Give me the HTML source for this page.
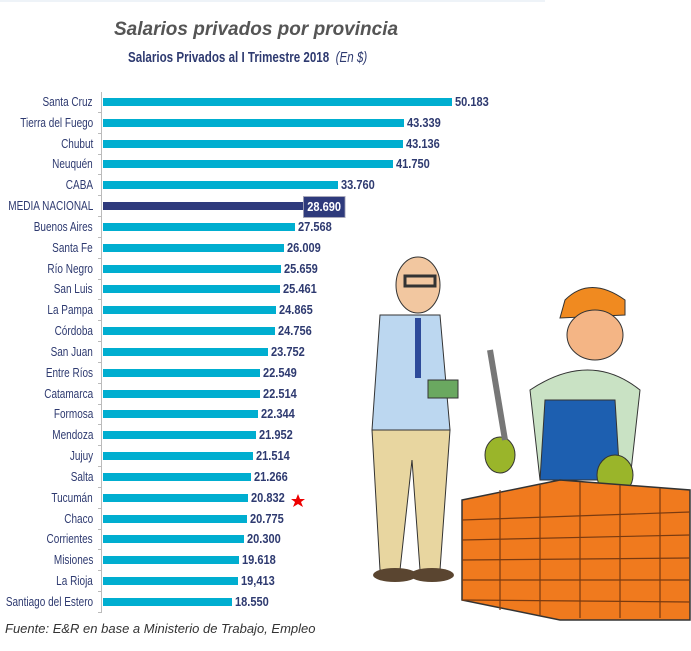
<!DOCTYPE html>
<html><head><meta charset="utf-8"><style>
body{margin:0;background:#fff;width:691px;height:651px;overflow:hidden;position:relative;font-family:"Liberation Sans",sans-serif}
.t1{position:absolute;left:114px;top:19px;font:italic bold 19px "Liberation Sans",sans-serif;color:#555}
.t2{position:absolute;left:128px;top:50px;font-size:14.5px;font-weight:bold;color:#2e3a70;transform:scaleX(0.8);transform-origin:left;white-space:nowrap}
.t2 i{font-weight:normal}
.lab{position:absolute;right:598px;font-size:12.5px;color:#2e3a70;white-space:nowrap;line-height:14px;transform:scaleX(0.8);transform-origin:right}
.bar{position:absolute;left:103px;height:8px;background:#00aed0}
.val{position:absolute;font-size:13px;font-weight:bold;color:#2e3a70;line-height:14px;transform:scaleX(0.85);transform-origin:left}
.axis{position:absolute;left:101px;top:92px;width:1px;height:520px;background:#bbb}
.src{position:absolute;left:5px;top:621px;font:italic 13px "Liberation Sans",sans-serif;color:#333}
</style></head><body>
<div style="position:absolute;left:0;top:0;width:545px;height:2px;background:#eef3f8"></div>
<div class="t1">Salarios privados por provincia</div>
<div class="t2">Salarios Privados al I Trimestre 2018 &nbsp;<i>(En $)</i></div>
<div class="axis"></div>
<div id="c"></div>
<svg style="position:absolute;left:0;top:0" width="691" height="651">
<g>
<ellipse cx="418" cy="285" rx="22" ry="28" fill="#f2c7a0" stroke="#333"/>
<rect x="405" y="276" width="30" height="10" fill="none" stroke="#333" stroke-width="3"/>
<path d="M380 315 L440 315 L450 430 L372 430 Z" fill="#bcd7f0" stroke="#333"/>
<path d="M372 430 L450 430 L440 570 L420 570 L412 460 L400 570 L380 570 Z" fill="#e8d6a0" stroke="#333"/>
<rect x="415" y="318" width="6" height="60" fill="#2d4a9a"/>
<rect x="428" y="380" width="30" height="18" fill="#6aa860" stroke="#333"/>
<ellipse cx="395" cy="575" rx="22" ry="7" fill="#5a4530"/>
<ellipse cx="432" cy="575" rx="22" ry="7" fill="#5a4530"/>
</g>
<g>
<path d="M565 300 Q590 275 625 300 L625 315 L560 318 Z" fill="#f08a20" stroke="#333"/>
<ellipse cx="595" cy="335" rx="28" ry="25" fill="#f4b585" stroke="#333"/>
<path d="M530 390 Q590 350 640 390 L630 480 L540 480 Z" fill="#c9e2c4" stroke="#333"/>
<path d="M545 400 L615 400 L620 480 L540 480 Z" fill="#1d5fb0" stroke="#333"/>
<ellipse cx="500" cy="455" rx="15" ry="18" fill="#9ab52a" stroke="#333"/>
<ellipse cx="615" cy="475" rx="18" ry="20" fill="#9ab52a" stroke="#333"/>
<path d="M490 350 L505 440" stroke="#777" stroke-width="6"/>
</g>
<g fill="#f07a1e" stroke="#333" stroke-width="1.5">
<path d="M462 500 L560 480 L690 490 L690 620 L560 620 L462 600 Z"/>
</g>
<g stroke="#7a3a10" stroke-width="1.2">
<line x1="462" y1="520" x2="690" y2="512"/><line x1="462" y1="540" x2="690" y2="535"/>
<line x1="462" y1="560" x2="690" y2="558"/><line x1="462" y1="580" x2="690" y2="580"/>
<line x1="462" y1="600" x2="690" y2="602"/>
<line x1="500" y1="490" x2="500" y2="610"/><line x1="540" y1="485" x2="540" y2="615"/>
<line x1="580" y1="482" x2="580" y2="618"/><line x1="620" y1="485" x2="620" y2="618"/>
<line x1="660" y1="488" x2="660" y2="618"/>
</g>
<polygon points="298,494 300,499 305,499 301,502 303,507 298,504 293,507 295,502 291,499 296,499" fill="#e00"/>
</svg>
<div class="src">Fuente: E&amp;R en base a Ministerio de Trabajo, Empleo</div>
<script>
var d=[["Santa Cruz",50183],["Tierra del Fuego",43339],["Chubut",43136],["Neuquén",41750],["CABA",33760],["MEDIA NACIONAL",28690],["Buenos Aires",27568],["Santa Fe",26009],["Río Negro",25659],["San Luis",25461],["La Pampa",24865],["Córdoba",24756],["San Juan",23752],["Entre Ríos",22549],["Catamarca",22514],["Formosa",22344],["Mendoza",21952],["Jujuy",21514],["Salta",21266],["Tucumán",20832],["Chaco",20775],["Corrientes",20300],["Misiones",19618],["La Rioja",19413],["Santiago del Estero",18550]];
var h="";
d.forEach(function(r,i){
 var y=102+i*20.83,w=r[1]*0.006955,m=i==5;
 var v=(r[1]/1000).toFixed(3);
 if(i==23)v="19,413";
 h+='<div class="lab" style="top:'+(y-7)+'px">'+r[0]+'</div>';
 h+='<div class="bar" style="top:'+(y-4)+'px;width:'+w+'px;'+(m?'background:#2e3a7c':'')+'"></div>';
 h+='<div class="val" style="top:'+(y-7)+'px;left:'+(103+w+(m?0:3))+'px;'+(m?'background:#2e3a7c;color:#fff;padding:3px 4px;margin-top:-3px;border:1px solid #aab':'')+'">'+v+'</div>';
 h+='<div style="position:absolute;left:98px;width:4px;height:1px;background:#bbb;top:'+(y+10)+'px"></div>';
});
document.getElementById("c").innerHTML=h;
</script>
</body></html>
